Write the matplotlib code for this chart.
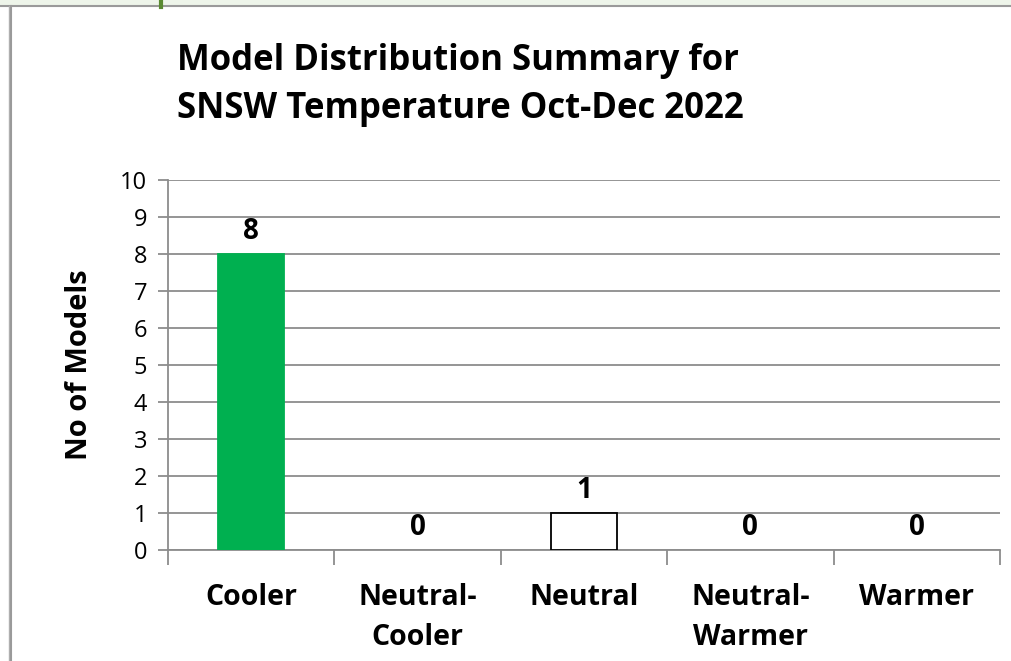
import numpy as np
import matplotlib.pyplot as plt
from matplotlib.lines import Line2D
from matplotlib.patches import Rectangle

categories = ["Cooler", "Neutral-\nCooler", "Neutral", "Neutral-\nWarmer", "Warmer"]
model_counts = [8, 0, 1, 0, 0]
bar_colors = ["#00b050", "white", "white", "white", "white"]
edge_colors = ["#00b050", "black", "black", "black", "black"]

plt.rcParams['font.family'] = ['Open Sans', 'DejaVu Sans']

fig = plt.figure(figsize=(10.12, 6.61), dpi=100)
W, H = 1012, 661

# window frame around the chart
fig.patches.append(Rectangle((0, 1 - 5 / H), 1, 5 / H, transform=fig.transFigure,
                             facecolor="#eef5ea", edgecolor="none"))
fig.lines.append(Line2D([0, 1], [1 - 5.5 / H] * 2, transform=fig.transFigure, color="#9a9a9a", lw=1.5))
fig.lines.append(Line2D([8.5 / W] * 2, [0, 1 - 5.5 / H], transform=fig.transFigure, color="#b0b0b0", lw=1))
fig.lines.append(Line2D([11.5 / W] * 2, [0, 1 - 5.5 / H], transform=fig.transFigure, color="#9a9a9a", lw=1.5))
fig.lines.append(Line2D([161 / W] * 2, [1 - 7 / H, 1], transform=fig.transFigure, color="#5a8a32", lw=3))

ax = fig.add_axes([168 / W, 111 / H, 832 / W, 370 / H])
x = np.arange(len(categories))
bars = ax.bar(x, model_counts, width=0.4, color=bar_colors, edgecolor=edge_colors, linewidth=1.3, zorder=3)
for b, c in zip(bars, model_counts):
    if c == 0:
        b.set_visible(False)
    ax.text(b.get_x() + b.get_width() / 2, c + 0.22, str(c), ha="center", va="bottom",
            fontsize=20, fontweight="bold")

ax.set_xlim(-0.5, len(categories) - 0.5)
ax.set_ylim(0, 10)
ax.set_yticks(np.arange(0, 11, 1))
ax.set_yticklabels([str(v) for v in range(11)], fontsize=17)
ax.yaxis.grid(True, color="#8c8c8c", lw=1.3)
ax.set_axisbelow(True)
ax.set_xticks(np.arange(-0.5, len(categories), 1))
ax.set_xticklabels([])
ax.set_xticks(x, minor=True)
ax.set_xticklabels(categories, minor=True, fontsize=20.5, fontweight="bold", linespacing=1.5)
ax.tick_params(axis="x", which="minor", length=0, pad=24)
ax.tick_params(axis="x", which="major", length=11, width=1.3, color="#8c8c8c", direction="out")
ax.tick_params(axis="y", length=7, width=1.3, color="#8c8c8c", pad=8)
for s in ["top", "right"]:
    ax.spines[s].set_visible(False)
ax.spines["left"].set_color("#8c8c8c")
ax.spines["left"].set_linewidth(1.3)
ax.spines["left"].set_bounds(0, 10)
ax.spines["bottom"].set_color("#8c8c8c")
ax.spines["bottom"].set_linewidth(1.3)
ax.set_ylabel("No of Models", fontsize=21, fontweight="bold", labelpad=19)

fig.text(177 / W, 1 - 85 / H, "Model Distribution Summary for\nSNSW Temperature Oct-Dec 2022",
         ha="left", va="center", fontsize=25, fontweight="bold", linespacing=1.45)

fig.savefig("out.png", dpi=100, facecolor="white")
